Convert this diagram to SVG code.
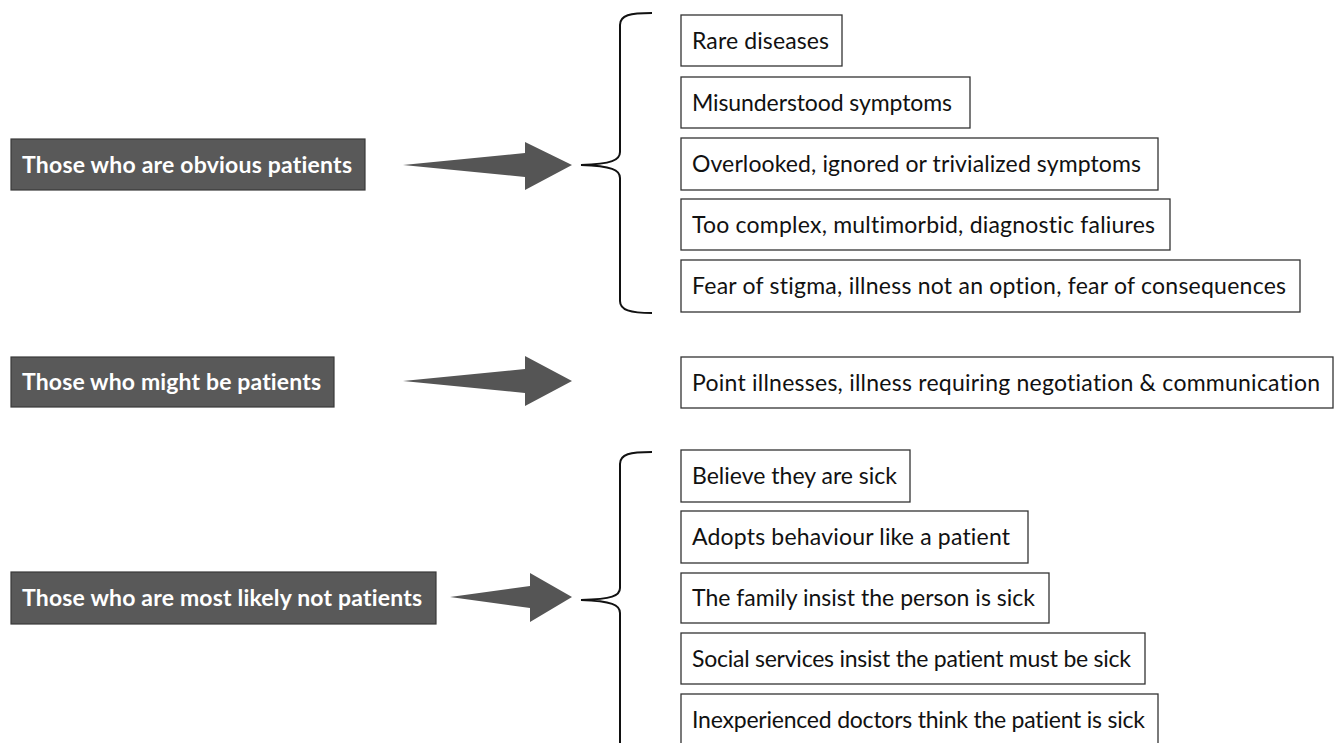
<svg xmlns="http://www.w3.org/2000/svg" width="1335" height="743" viewBox="0 0 1335 743">
  <style>
    text { font-variant-ligatures: none; }
    .cat rect { fill: #595959; stroke: #3a3a3a; stroke-width: 1.2; }
    .cat text { fill: #ffffff; font-family: Lato, "Liberation Sans", sans-serif; font-weight: bold; font-size: 23px; }
    .item rect { fill: #ffffff; stroke: #333333; stroke-width: 1.3; }
    .item text { fill: #111111; font-family: Lato, "Liberation Sans", sans-serif; font-size: 23px; }
    .arrow { fill: #555555; }
    .brace { fill: none; stroke: #111111; stroke-width: 2; }
  </style>

  <rect width="1335" height="743" fill="#ffffff"/>

  <!-- category boxes -->
  <g id="cat-obvious" class="cat">
    <rect x="11" y="139" width="354" height="51"/>
    <text x="22" y="173" textLength="330" lengthAdjust="spacing">Those who are obvious patients</text>
  </g>
  <g id="cat-might" class="cat">
    <rect x="11" y="357" width="323" height="50"/>
    <text x="22" y="390" textLength="299" lengthAdjust="spacing">Those who might be patients</text>
  </g>
  <g id="cat-unlikely" class="cat">
    <rect x="11" y="572" width="425" height="52"/>
    <text x="22" y="606" textLength="400" lengthAdjust="spacing">Those who are most likely not patients</text>
  </g>

  <!-- connectors: tapered arrows and braces -->
  <g id="connectors">
    <path class="arrow" d="M403,165 L525,153 L525,142 L572,165 L525,190 L525,177 Z"/>
    <path class="arrow" d="M403,381 L525,369 L525,356 L572,381 L525,406 L525,393 Z"/>
    <path class="arrow" d="M450,597 L530,586 L530,573 L572,597 L530,622 L530,608 Z"/>

    <path class="brace" d="M652,13 C630,13 620,15 620,25 L620,152 C620,160 612,164 581,165 C612,166 620,170 620,178 L620,301 C620,310 630,313 652,313"/>
    <path class="brace" d="M652,452 C630,452 620,454 620,464 L620,588 C620,596 612,599 581,600 C612,601 620,605 620,613 L620,760"/>
  </g>

  <!-- items: obvious patients -->
  <g id="item-rare" class="item">
    <rect x="681" y="15" width="161" height="51"/>
    <text x="692" y="49" textLength="137" lengthAdjust="spacing">Rare diseases</text>
  </g>
  <g id="item-misunderstood" class="item">
    <rect x="681" y="77" width="289" height="51"/>
    <text x="692" y="111" textLength="260" lengthAdjust="spacing">Misunderstood symptoms</text>
  </g>
  <g id="item-overlooked" class="item">
    <rect x="681" y="138" width="477" height="52"/>
    <text x="692" y="172" textLength="449" lengthAdjust="spacing">Overlooked, ignored or trivialized symptoms</text>
  </g>
  <g id="item-complex" class="item">
    <rect x="681" y="199" width="489" height="51"/>
    <text x="692" y="233" textLength="463" lengthAdjust="spacing">Too complex, multimorbid, diagnostic faliures</text>
  </g>
  <g id="item-stigma" class="item">
    <rect x="681" y="260" width="619" height="52"/>
    <text x="692" y="294" textLength="594" lengthAdjust="spacing">Fear of stigma, illness not an option, fear of consequences</text>
  </g>

  <!-- items: might be patients -->
  <g id="item-point" class="item">
    <rect x="681" y="357" width="652" height="51"/>
    <text x="692" y="391" textLength="628" lengthAdjust="spacing">Point illnesses, illness requiring negotiation &amp; communication</text>
  </g>

  <!-- items: most likely not patients -->
  <g id="item-believe" class="item">
    <rect x="681" y="450" width="229" height="52"/>
    <text x="692" y="484" textLength="205" lengthAdjust="spacing">Believe they are sick</text>
  </g>
  <g id="item-adopts" class="item">
    <rect x="681" y="511" width="347" height="52"/>
    <text x="692" y="545" textLength="318" lengthAdjust="spacing">Adopts behaviour like a patient</text>
  </g>
  <g id="item-family" class="item">
    <rect x="681" y="573" width="368" height="50"/>
    <text x="692" y="606" textLength="343" lengthAdjust="spacing">The family insist the person is sick</text>
  </g>
  <g id="item-social" class="item">
    <rect x="681" y="633" width="464" height="51"/>
    <text x="692" y="667" textLength="439" lengthAdjust="spacing">Social services insist the patient must be sick</text>
  </g>
  <g id="item-inexperienced" class="item">
    <rect x="681" y="694" width="477" height="60"/>
    <text x="692" y="728" textLength="453" lengthAdjust="spacing">Inexperienced doctors think the patient is sick</text>
  </g>
</svg>
